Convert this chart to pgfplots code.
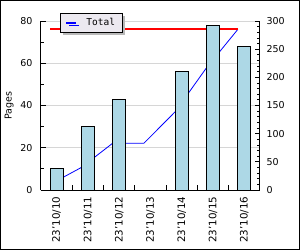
\documentclass[border=0pt]{standalone}
\usepackage{fontspec}
\setmainfont{DejaVu Sans}
\newfontfamily\monofont{DejaVu Sans Mono}
\usepackage{pgfplots}
\pgfplotsset{compat=1.18}
\usetikzlibrary{shadows}
\definecolor{barblue}{HTML}{ADD8E6}
\definecolor{legfill}{HTML}{ECE9F0}
\definecolor{gridgray}{HTML}{D6D6D6}
\pgfplotsset{
  base/.style={scale only axis, width=219pt, height=169pt,
    at={(41pt,60pt)}, anchor=south west, xmin=-0.5, xmax=6.5,
    tick align=inside, major tick length=5pt, minor tick length=3pt,
    axis line style={line width=1pt}, every tick/.style={black, line width=0.8pt},
    /pgf/number format/assume math mode=true,
    tick label style={font=\fontsize{9.5}{11}\selectfont},
  }
}
\begin{document}
\begin{tikzpicture}[x=1pt,y=1pt]
\fill[white] (0,0) rectangle (300,250);
\useasboundingbox (0,0) rectangle (300,250);
% left axis with grid and labels
\begin{axis}[base, ymin=0, ymax=80, ytick={0,20,...,80}, minor y tick num=1,
  ymajorgrids, grid style={gridgray, line width=0.8pt},
  axis x line*=bottom, axis y line*=left,
  xtick={0.5,1.5,...,5.5}, xticklabels={}, major x tick style={line width=0.8pt},
  extra x ticks={0,...,6},
  extra x tick labels={23’10/10,23’10/11,23’10/12,23’10/13,23’10/14,23’10/15,23’10/16},
  extra x tick style={major tick length=0pt, grid=none,
    tick label style={rotate=90, anchor=east, font=\fontsize{10.3}{12}\selectfont}},
  xticklabel shift=3pt,
  ylabel={Pages}, ylabel style={font=\fontsize{9.5}{11}\selectfont},
  yticklabel style={xshift=-5pt},
  x axis line style={-}, y axis line style={-},
]
\addplot[draw=none, forget plot] coordinates {(0,0)};
\end{axis}
% right axis with cumulative line
\begin{axis}[base, ymin=0, ymax=300, axis y line*=right, axis x line=none,
  ytick={0,50,...,300}, minor y tick num=4, y axis line style={-},
  yticklabel style={xshift=3pt},
  legend style={at={(0.087,1.047)}, anchor=north west, fill=legfill, draw=black,
    line width=0.8pt, font=\fontsize{9.5}{11}\monofont,
    drop shadow={shadow xshift=3pt, shadow yshift=-3pt, fill=gray!55, opacity=1},
    inner xsep=5pt, inner ysep=3pt},
  legend image code/.code={\draw[blue, line width=2pt] (0pt,0pt) -- (10pt,0pt);},
]
\addplot[blue, line width=0.8pt] coordinates {(-0.21,10)(0.79,40)(1.79,83)(2.79,83)(3.79,139)(4.79,217)(5.79,285)};
\addlegendentry{\hspace{7pt}Total\hspace{6pt}}
\addplot[red, line width=2pt, forget plot] coordinates {(-0.21,285)(5.79,285)};
\end{axis}
% bars on top
\begin{axis}[base, ymin=0, ymax=80, hide axis, ybar, bar width=13pt]
\addplot[fill=barblue, draw=black, line width=0.9pt] coordinates {(0,10)(1,30)(2,43)(4,56)(5,78)(6,68)};
\end{axis}
\draw[line width=1pt] (0.5,0.5) rectangle (299.5,249.5);
\end{tikzpicture}
\end{document}
